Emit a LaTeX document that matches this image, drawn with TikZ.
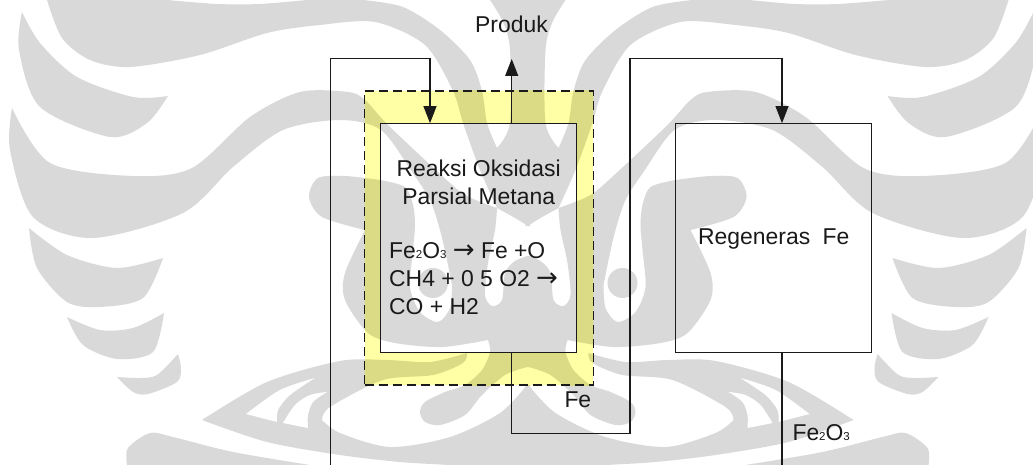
\documentclass[tikz,border=0pt]{standalone}
\usepackage{fontspec}
\setmainfont{Liberation Sans}
\newfontfamily\arrowfont{DejaVu Sans}
\usetikzlibrary{arrows.meta}
\definecolor{wmgrey}{HTML}{D9D9D9}
\definecolor{bandlight}{HTML}{FFFFA6}
\definecolor{banddark}{HTML}{DBDB85}
\definecolor{ink}{HTML}{1A1A1A}
\newcommand{\lowdigit}[1]{{\fontsize{11.5}{11.5}\selectfont #1}}
\newcommand{\thinarrow}{{\arrowfont\fontsize{26}{28}\selectfont →}}
\newcommand{\wmhalf}[2]{%
  % top band running into the centre
  \fill[#1] plot[smooth] coordinates {(47,0) (62,38) (90,60) (130,67) (200,55) (267,33) (320,25) (375,22) (425,45) (453,91) (463,123) (480,170) (497,208)}
    -- plot[smooth] coordinates {(497,208) (515,218) (528,226)}
    -- (530,226) -- (530,148) -- (497,148)
    -- plot[smooth] coordinates {(497,148) (487,123) (482,91) (470,60) (440,30) (403,7) (363,0)}
    -- (307,0) -- plot[smooth] coordinates {(307,0) (260,4) (217,4) (167,0)} -- cycle;
  % centre pillar
  \fill[#1] plot[smooth] coordinates {(490,0) (503,22) (510,50) (510,123) (497,148)} -- (530,160) -- (530,0) -- cycle;
  % second band with the S-shaped lump and the centre mass
  \fill[#1] plot[smooth] coordinates {(12,108) (10,150) (33,217) (93,238) (183,213) (233,167) (283,130) (340,120) (381,130) (412,172) (430,200) (440,230) (447,260) (452,285)}
    -- plot[smooth] coordinates {(452,285) (450,308) (438,322) (420,312) (410,287) (413,250) (415,225) (413,205) (405,187) (380,180)}
    -- plot[smooth] coordinates {(380,180) (345,176) (318,178) (309,197) (322,217) (365,230)}
    -- plot[smooth] coordinates {(365,230) (345,273) (345,300) (368,333) (395,343) (442,347) (488,340)}
    -- plot[smooth] coordinates {(488,340) (490,352) (482,370) (465,385) (445,392) (425,402) (420,412) (425,422) (440,425) (465,415) (482,395) (505,375) (527,367)}
    -- (530,367) -- (530,256) -- (528,256)
    -- plot[smooth] coordinates {(528,256) (515,261) (505,273) (502,300) (492,306) (485,295) (488,263) (495,230) (497,208)}
    -- plot[smooth] coordinates {(497,208) (465,195) (438,172) (388,125) (365,100) (348,92) (300,92) (250,117) (192,168) (133,176) (50,163) (12,108)} -- cycle;
  \fill[#1] (433,283) circle[radius=15];
  % pieces on the left rim
  \fill[#1] plot[smooth] coordinates {(22,12) (19,50) (40,107) (110,137) (147,123) (168,96)}
    -- plot[smooth] coordinates {(168,96) (133,97) (77,77) (40,43) (22,12)} -- cycle;
  \fill[#1] plot[smooth] coordinates {(29,228) (37,268) (67,302) (100,307) (143,298) (163,258)}
    -- plot[smooth] coordinates {(163,258) (117,268) (67,255) (29,228)} -- cycle;
  \fill[#1] plot[smooth] coordinates {(67,317) (83,345) (117,359) (153,352) (164,313)}
    -- plot[smooth] coordinates {(164,313) (133,328) (100,330) (67,317)} -- cycle;
  \fill[#1] plot[smooth] coordinates {(117,377) (133,392) (148,394) (177,382) (181,368) (178,354)}
    -- plot[smooth] coordinates {(178,354) (157,375) (140,378) (117,377)} -- cycle;
  % eye band and the hill below it
  \fill[#1] plot[smooth] coordinates {(202,420) (267,382) (340,361) (387,360) (430,362) (467,353)}
    -- plot[smooth] coordinates {(467,353) (463,363) (433,375) (383,380) (330,407) (322,420)}
    -- plot[smooth] coordinates {(322,420) (340,433) (390,447) (450,437) (500,413) (527,385)}
    -- (530,385) -- (530,465) -- (450,465)
    -- plot[smooth] coordinates {(450,465) (400,462) (340,455) (267,442) (202,420)} -- cycle;
  \fill[#1] plot[smooth] coordinates {(127,465) (128,448) (150,433) (173,437) (233,452) (310,465)} -- cycle;
  % slits in the eye
  \fill[#2] plot[smooth] coordinates {(246,414) (280,390) (315,378)}
    -- plot[smooth] coordinates {(315,378) (290,395) (278,410) (277,422)} -- cycle;
  \fill[#2] plot[smooth] coordinates {(283,423) (295,405) (310,395) (327,392)}
    -- plot[smooth] coordinates {(327,392) (313,402) (308,415) (308,428)} -- cycle;
}
\newcommand{\wmfull}[2]{%
  \wmhalf{#1}{#2}%
  \begin{scope}[xshift=1055.5pt,xscale=-1]\wmhalf{#1}{#2}\end{scope}%
}
\tikzset{
  conn/.style={draw=ink,line width=1.1pt},
  flow/.style={conn,-{Triangle[length=17pt,width=13pt]}},
  boxnode/.style={conn,minimum width=#1,minimum height=228.6pt,inner sep=0pt},
  txt/.style={text=ink,inner sep=0pt,font=\fontsize{22.9}{28}\selectfont},
  capnode/.style={txt,anchor=base west}
}
\begin{document}
\begin{tikzpicture}[x=1pt,y=-1pt]
\useasboundingbox (0,0) rectangle (1033,465);
\fill[white] (0,0) rectangle (1033,465);
\begin{scope}
  \clip (0,0) rectangle (1033,465);
  \wmfull{wmgrey}{white}
\end{scope}
% yellow band
\fill[bandlight] (364.5,91) rectangle (593.3,385);
\begin{scope}
  \clip (364.5,91) rectangle (593.3,385);
  \wmfull{banddark}{bandlight}
\end{scope}
\fill[white] (380.7,123.7) rectangle (576.7,352.3);
\begin{scope}
  \clip (380.7,123.7) rectangle (576.7,352.3);
  \wmfull{wmgrey}{white}
\end{scope}
% boxes
\node[draw=ink,line width=1.1pt,dash pattern=on 9pt off 5pt,minimum width=228.8pt,minimum height=294pt,inner sep=0pt] (band) at (478.9,238) {};
\node[boxnode=196pt] (reaksi) at (478.7,238) {};
\node[boxnode=196.3pt] (regen) at (773.2,238) {};
% helper coordinates
\coordinate (inx) at (430,58.7);
\coordinate (feedL) at (330.7,58.7);
\coordinate (feedB) at (330.7,465);
\coordinate (prodEnd) at (511.7,59);
\coordinate (feBot) at (511.7,433.7);
\coordinate (feRight) at (630,433.7);
\coordinate (feTop) at (630,58.3);
\coordinate (regTop) at (782,58.3);
\coordinate (regOut) at (782,465);
% connectors
\draw[flow] (feedB) -- (feedL) -- (inx) -- (reaksi.north -| inx);
\draw[flow] (reaksi.north -| prodEnd) -- (prodEnd);
\draw[flow] (reaksi.south -| prodEnd) -- (feBot) -- (feRight) -- (feTop) -- (regTop) -- (regen.north -| regTop);
\draw[conn] (regen.south -| regOut) -- (regOut);
% labels
\node[capnode] (produk) at (475,32.7) {Produk};
\node[txt,align=center,anchor=north] (title) at (478.7,159.5) {Reaksi Oksidasi\\Parsial Metana};
\node[txt,align=left,anchor=north west] (eqs) at (389,242.5) {Fe\lowdigit{2}O\lowdigit{3} \thinarrow{} Fe +O\\CH4 + 0 5 O2 \thinarrow{}\\CO + H2};
\node[capnode] (regname) at (698,244) {Regeneras\hspace{6pt} Fe};
\node[capnode] (fe) at (564.3,407.7) {Fe};
\node[capnode] (feo) at (792.3,440) {Fe\lowdigit{2}O\lowdigit{3}};
\end{tikzpicture}
\end{document}
